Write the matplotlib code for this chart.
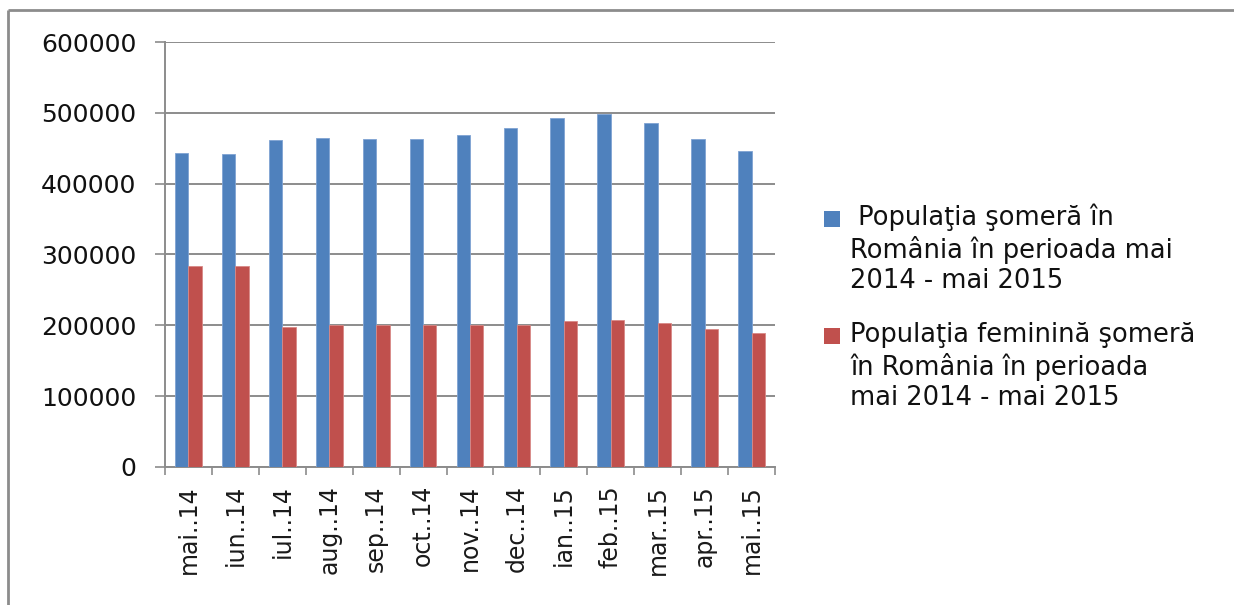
import numpy as np
import matplotlib
matplotlib.use("Agg")
import matplotlib.pyplot as plt
from matplotlib.patches import Rectangle
from matplotlib.lines import Line2D

# date
luni = ["mai..14", "iun..14", "iul..14", "aug..14", "sep..14", "oct..14", "nov..14",
        "dec..14", "ian..15", "feb..15", "mar..15", "apr..15", "mai..15"]
total = [444000, 442000, 461000, 464500, 462500, 462500, 468500,
         478000, 493000, 499000, 485000, 462500, 446000]
femei = [284000, 284000, 197000, 200000, 200000, 200000, 200000,
         200000, 206000, 208000, 203500, 195000, 189000]
etichete = [" Populaţia şomeră în\nRomânia în perioada mai\n2014 - mai 2015",
            "Populaţia feminină şomeră\nîn România în perioada\nmai 2014 - mai 2015"]
culori = ["#4F81BD", "#C0504D"]

W, H = 1234, 605
fig = plt.figure(figsize=(W / 100, H / 100), dpi=100)
ax = fig.add_axes([165 / W, 1 - 467 / H, 610 / W, 425 / H])

x = np.arange(len(luni))
w = 1 / 3.5
b1 = ax.bar(x - w / 2, total, w, color=culori[0], edgecolor="#7FA3D3", linewidth=0.6, zorder=3)
b2 = ax.bar(x + w / 2, femei, w, color=culori[1], edgecolor="#D98986", linewidth=0.6, zorder=3)

ax.set_xlim(-0.5, len(luni) - 0.5)
ax.set_ylim(0, 600000)
ax.set_yticks(np.arange(0, 600001, 100000))
ax.set_yticklabels([str(v) for v in range(0, 600001, 100000)], fontsize=18, color="#111111")
ax.yaxis.grid(True, color="#8C8C8C", linewidth=1.4, zorder=0)
ax.tick_params(axis="y", length=7.5, width=1.2, color="#8C8C8C", pad=13)

# etichete lunare rotite, liniute intre categorii
ax.set_xticks(x)
ax.set_xticklabels(luni, rotation=90, fontsize=17, color="#1a1a1a")
ax.set_xticks(np.arange(-0.5, len(luni), 1), minor=True)
ax.tick_params(axis="x", which="major", length=0, pad=13)
ax.tick_params(axis="x", which="minor", length=5.5, width=1.2, color="#8C8C8C")

for s in ["top", "right"]:
    ax.spines[s].set_visible(False)
for s in ["left", "bottom"]:
    ax.spines[s].set_color("#8C8C8C")
    ax.spines[s].set_linewidth(1.4)

# legenda desenata manual (patrat aliniat cu primul rand)
for bars, text, sq_y, base_y in [(b1, etichete[0], 211, 288), (b2, etichete[1], 328, 405)]:
    fig.add_artist(Rectangle((824 / W, 1 - (sq_y + 16) / H), 16 / W, 16 / H,
                             transform=fig.transFigure,
                             color=bars.patches[0].get_facecolor(), lw=0))
    fig.text(850 / W, 1 - base_y / H, text, fontsize=18.5, va="baseline", ha="left",
             linespacing=1.22, color="#111111")

# chenarul exterior (iese din imagine in dreapta si jos)
fig.add_artist(Line2D([8 / W, 8 / W], [-0.05, 1 - 10 / H], transform=fig.transFigure,
                      color="#8C8C8C", lw=2, solid_capstyle="butt"))
fig.add_artist(Line2D([8 / W, 1.05], [1 - 10 / H, 1 - 10 / H], transform=fig.transFigure,
                      color="#8C8C8C", lw=2, solid_capstyle="butt"))

fig.savefig("out.png", dpi=100)
